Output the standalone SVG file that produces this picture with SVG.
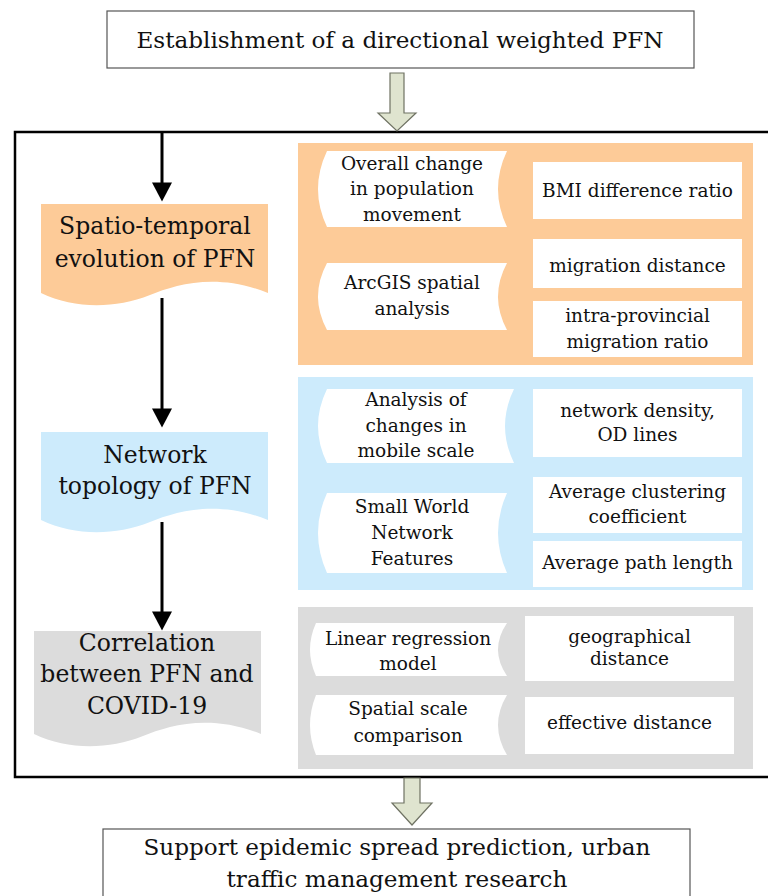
<svg xmlns="http://www.w3.org/2000/svg" width="768" height="896" viewBox="0 0 768 896">
<style>
text{font-family:"DejaVu Serif","Liberation Serif",serif;fill:#111;text-anchor:middle}
.t1{font-size:23.1px}
.t2{font-size:23.5px}
.t3{font-size:18.5px}
.box{fill:#fff;stroke:#555;stroke-width:1.2}
.blk{fill:#dfe4cf;stroke:#6f7263;stroke-width:1.2}
.wh{fill:#fff}
.or{fill:#fdcb98}
.bl{fill:#cdebfc}
.gr{fill:#dcdcdc}
.conn{stroke:#000;stroke-width:3;fill:none}
</style>
<defs>
<marker id="ah" markerUnits="userSpaceOnUse" markerWidth="20" markerHeight="20" viewBox="0 0 18 19" refX="8" refY="9.5" orient="auto">
<path d="M0,0 L18,9.5 L0,19 Z" fill="#000"/>
</marker>
</defs>

<g id="top-box">
<rect class="box" x="107" y="11" width="587" height="57"/>
<text class="t1" x="400" y="48">Establishment of a directional weighted PFN</text>
</g>

<g id="frame">
<path d="M775,132 H15 V777 H775" fill="none" stroke="#000" stroke-width="2.5"/>
</g>

<g id="panel-orange">
<rect class="or" x="298" y="143" width="455" height="222"/>
</g>
<g id="panel-blue">
<rect class="bl" x="298" y="377" width="455" height="213"/>
</g>
<g id="panel-gray">
<rect class="gr" x="298" y="607" width="455" height="162"/>
</g>

<g id="node-spatio">
<path class="or" d="M41,204 H268 V293 C216,272 175,285 150,295 C114,309 75,309 41,293 Z"/>
<text class="t2" x="155" y="234">Spatio-temporal</text>
<text class="t2" x="155" y="267">evolution of PFN</text>
</g>
<g id="node-network">
<path class="bl" d="M41,432 H268 V520 C216,499 175,512 150,522 C114,536 75,536 41,520 Z"/>
<text class="t2" x="155" y="463">Network</text>
<text class="t2" x="155" y="494">topology of PFN</text>
</g>
<g id="node-correlation">
<path class="gr" d="M34,631 H261 V734 C209,713 168,726 143,736 C107,750 68,750 34,734 Z"/>
<text class="t2" x="147" y="651">Correlation</text>
<text class="t2" x="147" y="682">between PFN and</text>
<text class="t2" x="147" y="714">COVID-19</text>
</g>

<g id="node-overall">
<path class="wh" d="M327,151 H507 Q489,189 507,227 H327 Q309,189 327,151 Z"/>
<text class="t3" x="412" y="170">Overall change</text>
<text class="t3" x="412" y="195">in population</text>
<text class="t3" x="412" y="221">movement</text>
</g>
<g id="node-arcgis">
<path class="wh" d="M327,263 H507 Q489,296.5 507,330 H327 Q309,296.5 327,263 Z"/>
<text class="t3" x="412" y="289">ArcGIS spatial</text>
<text class="t3" x="412" y="315">analysis</text>
</g>
<g id="node-bmi">
<rect class="wh" x="533" y="162" width="209" height="57"/>
<text class="t3" x="637.5" y="197">BMI difference ratio</text>
</g>
<g id="node-migdist">
<rect class="wh" x="533" y="239" width="209" height="49"/>
<text class="t3" x="637.5" y="272">migration distance</text>
</g>
<g id="node-intra">
<rect class="wh" x="533" y="301" width="209" height="56"/>
<text class="t3" x="637.5" y="322">intra-provincial</text>
<text class="t3" x="637.5" y="348">migration ratio</text>
</g>

<g id="node-analysis">
<path class="wh" d="M327,389 H514 Q496,426 514,463 H327 Q309,426 327,389 Z"/>
<text class="t3" x="416" y="406">Analysis of</text>
<text class="t3" x="416" y="432">changes in</text>
<text class="t3" x="416" y="457">mobile scale</text>
</g>
<g id="node-smallworld">
<path class="wh" d="M327,493 H507 Q489,533 507,573 H327 Q309,533 327,493 Z"/>
<text class="t3" x="412" y="513">Small World</text>
<text class="t3" x="412" y="539">Network</text>
<text class="t3" x="412" y="565">Features</text>
</g>
<g id="node-density">
<rect class="wh" x="533" y="389" width="209" height="68"/>
<text class="t3" x="637.5" y="417">network density,</text>
<text class="t3" x="637.5" y="441">OD lines</text>
</g>
<g id="node-clustering">
<rect class="wh" x="533" y="477" width="209" height="56"/>
<text class="t3" x="637.5" y="498">Average clustering</text>
<text class="t3" x="637.5" y="523">coefficient</text>
</g>
<g id="node-path">
<rect class="wh" x="533" y="541" width="209" height="46"/>
<text class="t3" x="637.5" y="569">Average path length</text>
</g>

<g id="node-linear">
<path class="wh" d="M316,623 H507 Q489,649.5 507,676 H316 Q304,649.5 316,623 Z"/>
<text class="t3" x="408" y="645">Linear regression</text>
<text class="t3" x="408" y="670">model</text>
</g>
<g id="node-spatialscale">
<path class="wh" d="M316,695 H507 Q489,725 507,755 H316 Q304,725 316,695 Z"/>
<text class="t3" x="408" y="715">Spatial scale</text>
<text class="t3" x="408" y="742">comparison</text>
</g>
<g id="node-geo">
<rect class="wh" x="525" y="616" width="209" height="65"/>
<text class="t3" x="629.5" y="643">geographical</text>
<text class="t3" x="629.5" y="665">distance</text>
</g>
<g id="node-effective">
<rect class="wh" x="525" y="697" width="209" height="57"/>
<text class="t3" x="629.5" y="729">effective distance</text>
</g>

<g id="bottom-box">
<rect class="box" x="103" y="829" width="587" height="90"/>
<text class="t1" x="397" y="855">Support epidemic spread prediction, urban</text>
<text class="t1" x="397" y="887">traffic management research</text>
</g>

<g id="connectors">
<path class="blk" d="M390,73 H404 V113 H416 L397,131 L378,113 H390 Z"/>
<path class="blk" d="M404,778 H420 V803 H432 L412,825 L392,803 H404 Z"/>
<line class="conn" x1="162" y1="132" x2="162" y2="191" marker-end="url(#ah)"/>
<line class="conn" x1="162" y1="298" x2="162" y2="417" marker-end="url(#ah)"/>
<line class="conn" x1="162" y1="522" x2="162" y2="620" marker-end="url(#ah)"/>
</g>
</svg>
